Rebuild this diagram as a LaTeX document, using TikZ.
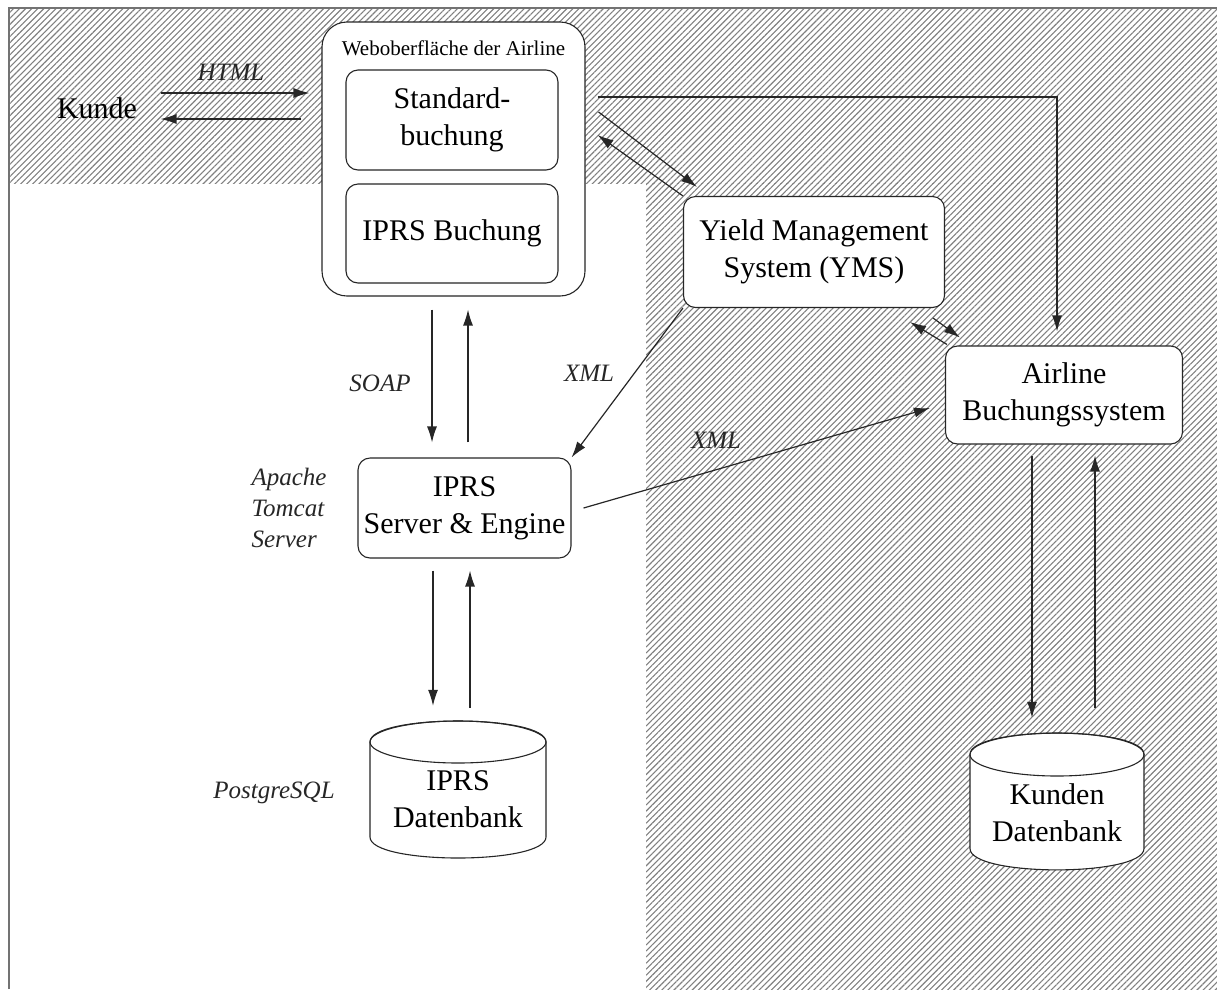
\documentclass[tikz,border=0pt]{standalone}
\usepackage{fontspec}
\setmainfont{Liberation Serif}
\usetikzlibrary{patterns.meta,arrows.meta,calc}
\begin{document}
\begin{tikzpicture}[x=1pt,y=-1pt,
  box/.style={draw=black!85,line width=1.1pt,fill=white,rounded corners=12pt,align=center,font=\fontsize{30}{37}\selectfont},
  lbl/.style={font=\fontsize{25}{31}\selectfont\itshape,text=black!85},
  arr/.style={line width=1.2pt,draw=black!85,-{Latex[length=16pt,width=10pt]}},
  hatch/.style={pattern={Lines[angle=45,distance=4.3pt,line width=1.1pt]},pattern color=black!50},
  dbtext/.style={align=center,font=\fontsize{30}{37}\selectfont}]
\useasboundingbox (0,0) rectangle (1217,989);
% hatched background
\fill[hatch] (10,8) rectangle (1217,183);
\fill[hatch] (646,183) rectangle (1217,989);
\draw[black!55,line width=2pt] (9,989) -- (9,8) -- (1217,8);

% web interface
\node[box,rounded corners=25pt,minimum width=263pt,minimum height=274pt] (web) at (453.5,159) {};
\node[font=\fontsize{21}{25}\selectfont] (webt) at (453.5,48) {Weboberfläche der Airline};
\node[box,minimum width=212pt,minimum height=100pt] (std) at (452,120) {Standard-\\buchung};
\node[box,minimum width=212pt,minimum height=99pt] (iprsb) at (452,233.5) {IPRS Buchung};

\node[font=\fontsize{30}{37}\selectfont] (kunde) at (97,108) {Kunde};

\node[box,minimum width=261pt,minimum height=111pt] (yms) at (814,252) {Yield Management\\System (YMS)};
\node[box,minimum width=237pt,minimum height=98pt] (abs) at (1064,395) {Airline\\Buchungssystem};
\node[box,minimum width=213pt,minimum height=100pt] (srv) at (464.5,508) {IPRS\\Server \& Engine};

% databases
\node[minimum width=176pt,minimum height=137pt,inner sep=0pt] (db1) at (458,789.5) {};
\filldraw[fill=white,draw=black!85,line width=1.1pt]
  (370,742) -- (370,837) .. controls (370,865) and (546,865) .. (546,837) -- (546,742)
  .. controls (546,714) and (370,714) .. (370,742) -- cycle;
\draw[black!85,line width=1.1pt] (458,742) ellipse [x radius=88, y radius=21];
\node[dbtext] (db1t) at (458,799) {IPRS\\Datenbank};

\node[minimum width=174pt,minimum height=137pt,inner sep=0pt] (db2) at (1057,801.5) {};
\filldraw[fill=white,draw=black!85,line width=1.1pt]
  (970,754.5) -- (970,848.5) .. controls (970,877) and (1144,877) .. (1144,848.5) -- (1144,754.5)
  .. controls (1144,726) and (970,726) .. (970,754.5) -- cycle;
\draw[black!85,line width=1.1pt] (1057,754.5) ellipse [x radius=87, y radius=21.5];
\node[dbtext] (db2t) at (1057,813) {Kunden\\Datenbank};

% labels
\node[lbl] (lhtml) at (231,72) {HTML};
\node[lbl] (lsoap) at (380,383) {SOAP};
\node[lbl] (lxml1) at (589,373) {XML};
\node[lbl] (lxml2) at (716,440) {XML};
\node[lbl,align=left,anchor=west] (ltom) at (248,508) {Apache\\Tomcat\\Server};
\node[lbl] (lpg) at (274,793) {PostgreSQL};

% connectors
\draw[arr] ([xshift=20pt,yshift=15pt]kunde.east) -- ([xshift=-12pt,yshift=15pt]kunde.east -| web.west);
\draw[arr] ([xshift=-20pt,yshift=-11pt]kunde.east -| web.west) -- ([xshift=20pt,yshift=-11pt]kunde.east);

\draw[arr] ($(web.east)+(12,-62)$) -| ($(abs.north)+(-7,-14)$);

\draw[arr] ($(web.east)+(13,-47)$) -- ($(yms.north west)+(14,-9)$);
\draw[arr] ($(yms.north west)+(0,0)$) -- ($(web.east)+(12,-24)$);

\draw[arr] ($(abs.north west)+(2,-1)$) -- ($(yms.south east)+(-35,14)$);
\draw[arr] ($(yms.south east)+(-12,10)$) -- ($(abs.north west)+(15,-8)$);

\draw[arr] (yms.south west) -- (srv.north east);
\draw[arr] ($(srv.east)+(12,0)$) -- ($(abs.west)+(-15,13)$);

\draw[arr] ($(web.south)+(-21.5,13)$) -- ($(srv.north)+(-32.5,-15)$);
\draw[arr] ($(srv.north)+(3.5,-15)$) -- ($(web.south)+(14.5,13)$);

\draw[arr] ($(srv.south)+(-31.5,12)$) -- ($(db1.north)+(-25,-15)$);
\draw[arr] ($(db1.north)+(12,-13)$) -- ($(srv.south)+(5.5,12)$);

\draw[arr] ($(abs.south)+(-32,11)$) -- ($(db2.north)+(-25,-15)$);
\draw[arr] ($(db2.north)+(38,-25)$) -- ($(abs.south)+(31,11)$);
\end{tikzpicture}
\end{document}
